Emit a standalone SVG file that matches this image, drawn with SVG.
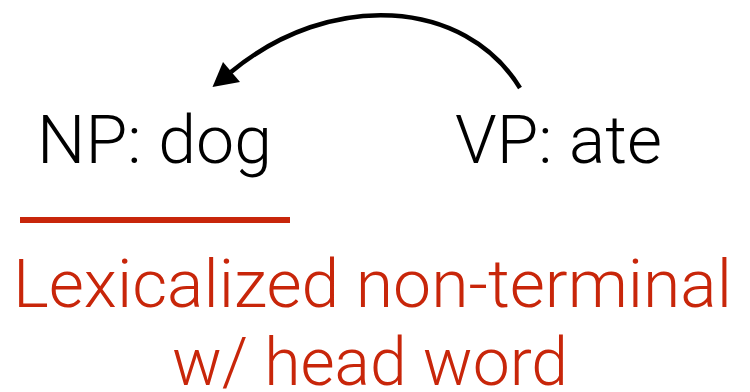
<svg xmlns="http://www.w3.org/2000/svg" width="750" height="392" viewBox="0 0 750 392">
  <style>
    .label { font-family: Roboto, "Liberation Sans", sans-serif; font-weight: 300; font-size: 66px; }
    .node { fill: #000000; }
    .note { fill: #C8260A; }
    .edge { fill: none; stroke: #000000; stroke-width: 4.5; stroke-linecap: butt; }
    .head { fill: #000000; }
  </style>
  <rect width="750" height="392" fill="#ffffff"/>

  <g id="connectors">
    <path class="edge" d="M520,88 C465,-2 330,-10 231,72"/>
    <polygon class="head" points="212.5,87 223,62 240,82"/>
  </g>

  <g id="np-dog">
    <text class="label node" x="37" y="163" textLength="235" lengthAdjust="spacingAndGlyphs">NP: dog</text>
  </g>

  <g id="vp-ate">
    <text class="label node" x="455" y="163" textLength="207" lengthAdjust="spacingAndGlyphs">VP: ate</text>
  </g>

  <g id="annotation">
    <line x1="20" y1="220" x2="290" y2="220" stroke="#C8260A" stroke-width="6"/>
    <text class="label note" x="13" y="307" textLength="719" lengthAdjust="spacingAndGlyphs">Lexicalized non-terminal</text>
    <text class="label note" x="172" y="385" textLength="396" lengthAdjust="spacingAndGlyphs">w/ head word</text>
  </g>
</svg>
